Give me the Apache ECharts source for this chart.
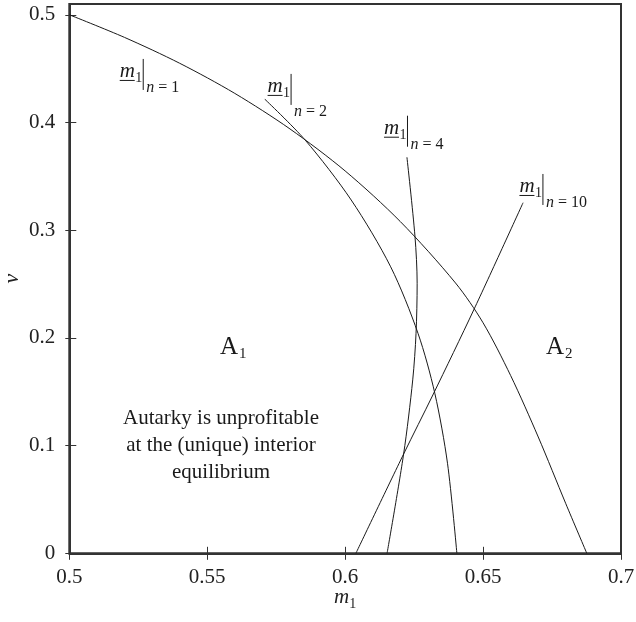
<!DOCTYPE html>
<html>
<head>
<meta charset="utf-8">
<script src="https://cdn.jsdelivr.net/npm/echarts@6/dist/echarts.min.js"></script>
<style>
  html, body { margin: 0; padding: 0; background: #fff; }
  #chart { width: 636px; height: 622px; }
</style>
</head>
<body>
<div id="chart"></div>
<script>
// Tick values for both axes
const xTicks = [0.5, 0.55, 0.6, 0.65, 0.7];
const yTicks = [0, 0.1, 0.2, 0.3, 0.4, 0.5];

// Threshold curves m1 (x) against v (y), one per number of firms n
const curveN1 = [
  [0.5, 0.5], [0.52, 0.479], [0.54, 0.455], [0.56, 0.427], [0.58, 0.394],
  [0.6, 0.355], [0.62, 0.308], [0.64, 0.251], [0.65, 0.214], [0.66, 0.165],
  [0.67, 0.108], [0.68, 0.046], [0.6876, 0]
];
const curveN2 = [
  [0.5708, 0.4218], [0.5855, 0.3837], [0.6022, 0.328], [0.6165, 0.266], [0.6264, 0.2043],
  [0.6325, 0.1486], [0.6371, 0.0836], [0.6405, 0]
];
const curveN4 = [
  [0.6224, 0.3677], [0.6253, 0.2946], [0.6261, 0.2507], [0.6257, 0.2043], [0.6245, 0.161],
  [0.6212, 0.0922], [0.6152, 0]
];
const curveN10 = [
  [0.6039, 0], [0.6212, 0.0922], [0.6318, 0.147], [0.6466, 0.2259], [0.6645, 0.3255]
];

const curveNames = ['1', '2', '4', '10'];
const regionNames = ['1', '2'];
const noteLines = ['Autarky is unprofitable', 'at the (unique) interior', 'equilibrium'];

// Where each curve tag sits (data coords of the bottom of its evaluation bar)
const tagAnchors = [[0.5268, 0.4302], [0.5804, 0.4163], [0.6226, 0.3775], [0.6717, 0.3234]];
const tagSubDrop = [3, 11.5, 3, 3];
const regionAnchors = [[0.5546, 0.184], [0.6728, 0.184]];
const noteAnchor = [0.555, 0.0943];

const SERIF = '"Liberation Serif", "Times New Roman", serif';
const INK = '#1a1a1a';

const chart = echarts.init(document.getElementById('chart'), null, { renderer: 'canvas' });

function lineSeries(name, data) {
  return {
    name: name,
    type: 'line',
    data: data,
    xAxisIndex: 0,
    yAxisIndex: 0,
    smooth: 0.3,
    showSymbol: false,
    symbol: 'none',
    silent: true,
    clip: false,
    lineStyle: { color: INK, width: 1 }
  };
}

const labelStyle = { fontFamily: SERIF, fontSize: 21, color: '#222' };

chart.setOption({
  animation: false,
  backgroundColor: '#fff',
  grid: {
    left: 69.3, right: 15, top: 4, bottom: 68.7,
    show: true, borderColor: '#333', borderWidth: 2,
    outerBoundsMode: 'none'
  },
  xAxis: [
    {
      type: 'value', min: 0.5, max: 0.7, position: 'bottom',
      axisLine: { show: true, lineStyle: { color: '#333', width: 2 } },
      axisTick: { show: true, customValues: xTicks, length: 6.5, lineStyle: { color: '#333', width: 1 } },
      axisLabel: Object.assign({ customValues: xTicks, margin: 14 }, labelStyle),
      splitLine: { show: false },
      name: '{m|m}{s|1}',
      nameLocation: 'middle',
      nameGap: 34,
      nameMoveOverlap: false,
      nameTextStyle: {
        rich: {
          m: { fontFamily: SERIF, fontStyle: 'italic', fontSize: 21, color: '#222', verticalAlign: 'bottom', padding: [0, 0, 3, 0] },
          s: { fontFamily: SERIF, fontSize: 14, color: '#222', verticalAlign: 'bottom' }
        }
      }
    },
    {
      type: 'value', min: 0.5, max: 0.7, position: 'bottom',
      axisLine: { show: false },
      axisTick: { show: true, inside: true, customValues: xTicks, length: 6.5, lineStyle: { color: '#333', width: 1 } },
      axisLabel: { show: false },
      splitLine: { show: false }
    }
  ],
  yAxis: [
    {
      type: 'value', min: 0, max: 0.51, position: 'left',
      axisLine: { show: true, lineStyle: { color: '#333', width: 2 } },
      axisTick: { show: true, customValues: yTicks, length: 4, lineStyle: { color: '#333', width: 1 } },
      axisLabel: Object.assign({ customValues: yTicks, margin: 14 }, labelStyle),
      splitLine: { show: false },
      name: 'v',
      nameLocation: 'middle',
      nameRotate: 90,
      nameGap: 46,
      nameMoveOverlap: false,
      nameTextStyle: { fontFamily: SERIF, fontStyle: 'italic', fontSize: 22, color: '#222' }
    },
    {
      type: 'value', min: 0, max: 0.51, position: 'left',
      axisLine: { show: false },
      axisTick: { show: true, inside: true, customValues: yTicks, length: 7, lineStyle: { color: '#333', width: 1 } },
      axisLabel: { show: false },
      splitLine: { show: false }
    }
  ],
  series: [
    lineSeries('n = 1', curveN1),
    lineSeries('n = 2', curveN2),
    lineSeries('n = 4', curveN4),
    lineSeries('n = 10', curveN10)
  ]
});

// Text placed with canvas 'middle' baseline; shift so glyph baseline lands at y
function midY(baseline, size) { return baseline - 0.3 * size; }

function buildAnnotations() {
  const els = [];
  const toPx = (pt) => chart.convertToPixel({ xAxisIndex: 0, yAxisIndex: 0 }, pt);

  // Curve tags: underlined m with subscript 1, an evaluation bar, and "n = k"
  curveNames.forEach((n, i) => {
    const p = toPx(tagAnchors[i]);
    const bx = p[0], bb = p[1];
    els.push({ type: 'line', silent: true,
      shape: { x1: bx, y1: bb - 31, x2: bx, y2: bb },
      style: { stroke: INK, lineWidth: 1 } });
    els.push({ type: 'text', silent: true, x: bx - 23.5, y: midY(bb - 12, 21),
      style: { text: 'm', font: 'italic 21px ' + SERIF, fill: INK, align: 'left', verticalAlign: 'middle' } });
    els.push({ type: 'line', silent: true,
      shape: { x1: bx - 23.5, y1: bb - 9.5, x2: bx - 8.5, y2: bb - 9.5 },
      style: { stroke: INK, lineWidth: 1 } });
    els.push({ type: 'text', silent: true, x: bx - 8, y: midY(bb - 7, 14),
      style: { text: '1', font: '14px ' + SERIF, fill: INK, align: 'left', verticalAlign: 'middle' } });
    const sb = bb + tagSubDrop[i];
    els.push({ type: 'text', silent: true, x: bx + 3, y: midY(sb, 16),
      style: {
        text: '{i|n}{r| = ' + n + '}',
        align: 'left', verticalAlign: 'middle',
        rich: {
          i: { fontFamily: SERIF, fontStyle: 'italic', fontSize: 16, fill: INK },
          r: { fontFamily: SERIF, fontSize: 16, fill: INK }
        }
      } });
  });

  // Region labels A1, A2
  regionNames.forEach((k, i) => {
    const p = toPx(regionAnchors[i]);
    els.push({ type: 'text', silent: true, x: p[0], y: midY(p[1], 25),
      style: { text: 'A', font: '25px ' + SERIF, fill: INK, align: 'left', verticalAlign: 'middle' } });
    els.push({ type: 'text', silent: true, x: p[0] + 19, y: midY(p[1] + 3, 15),
      style: { text: k, font: '15px ' + SERIF, fill: INK, align: 'left', verticalAlign: 'middle' } });
  });

  // Note in region A1
  const q = toPx(noteAnchor);
  els.push({ type: 'text', silent: true, x: q[0], y: midY(q[1], 21),
    style: { text: noteLines.join('\n'), font: '21px ' + SERIF, lineHeight: 27, fill: INK,
      align: 'center', verticalAlign: 'middle' } });

  chart.setOption({ graphic: { elements: els } });
}

buildAnnotations();
</script>
</body>
</html>
